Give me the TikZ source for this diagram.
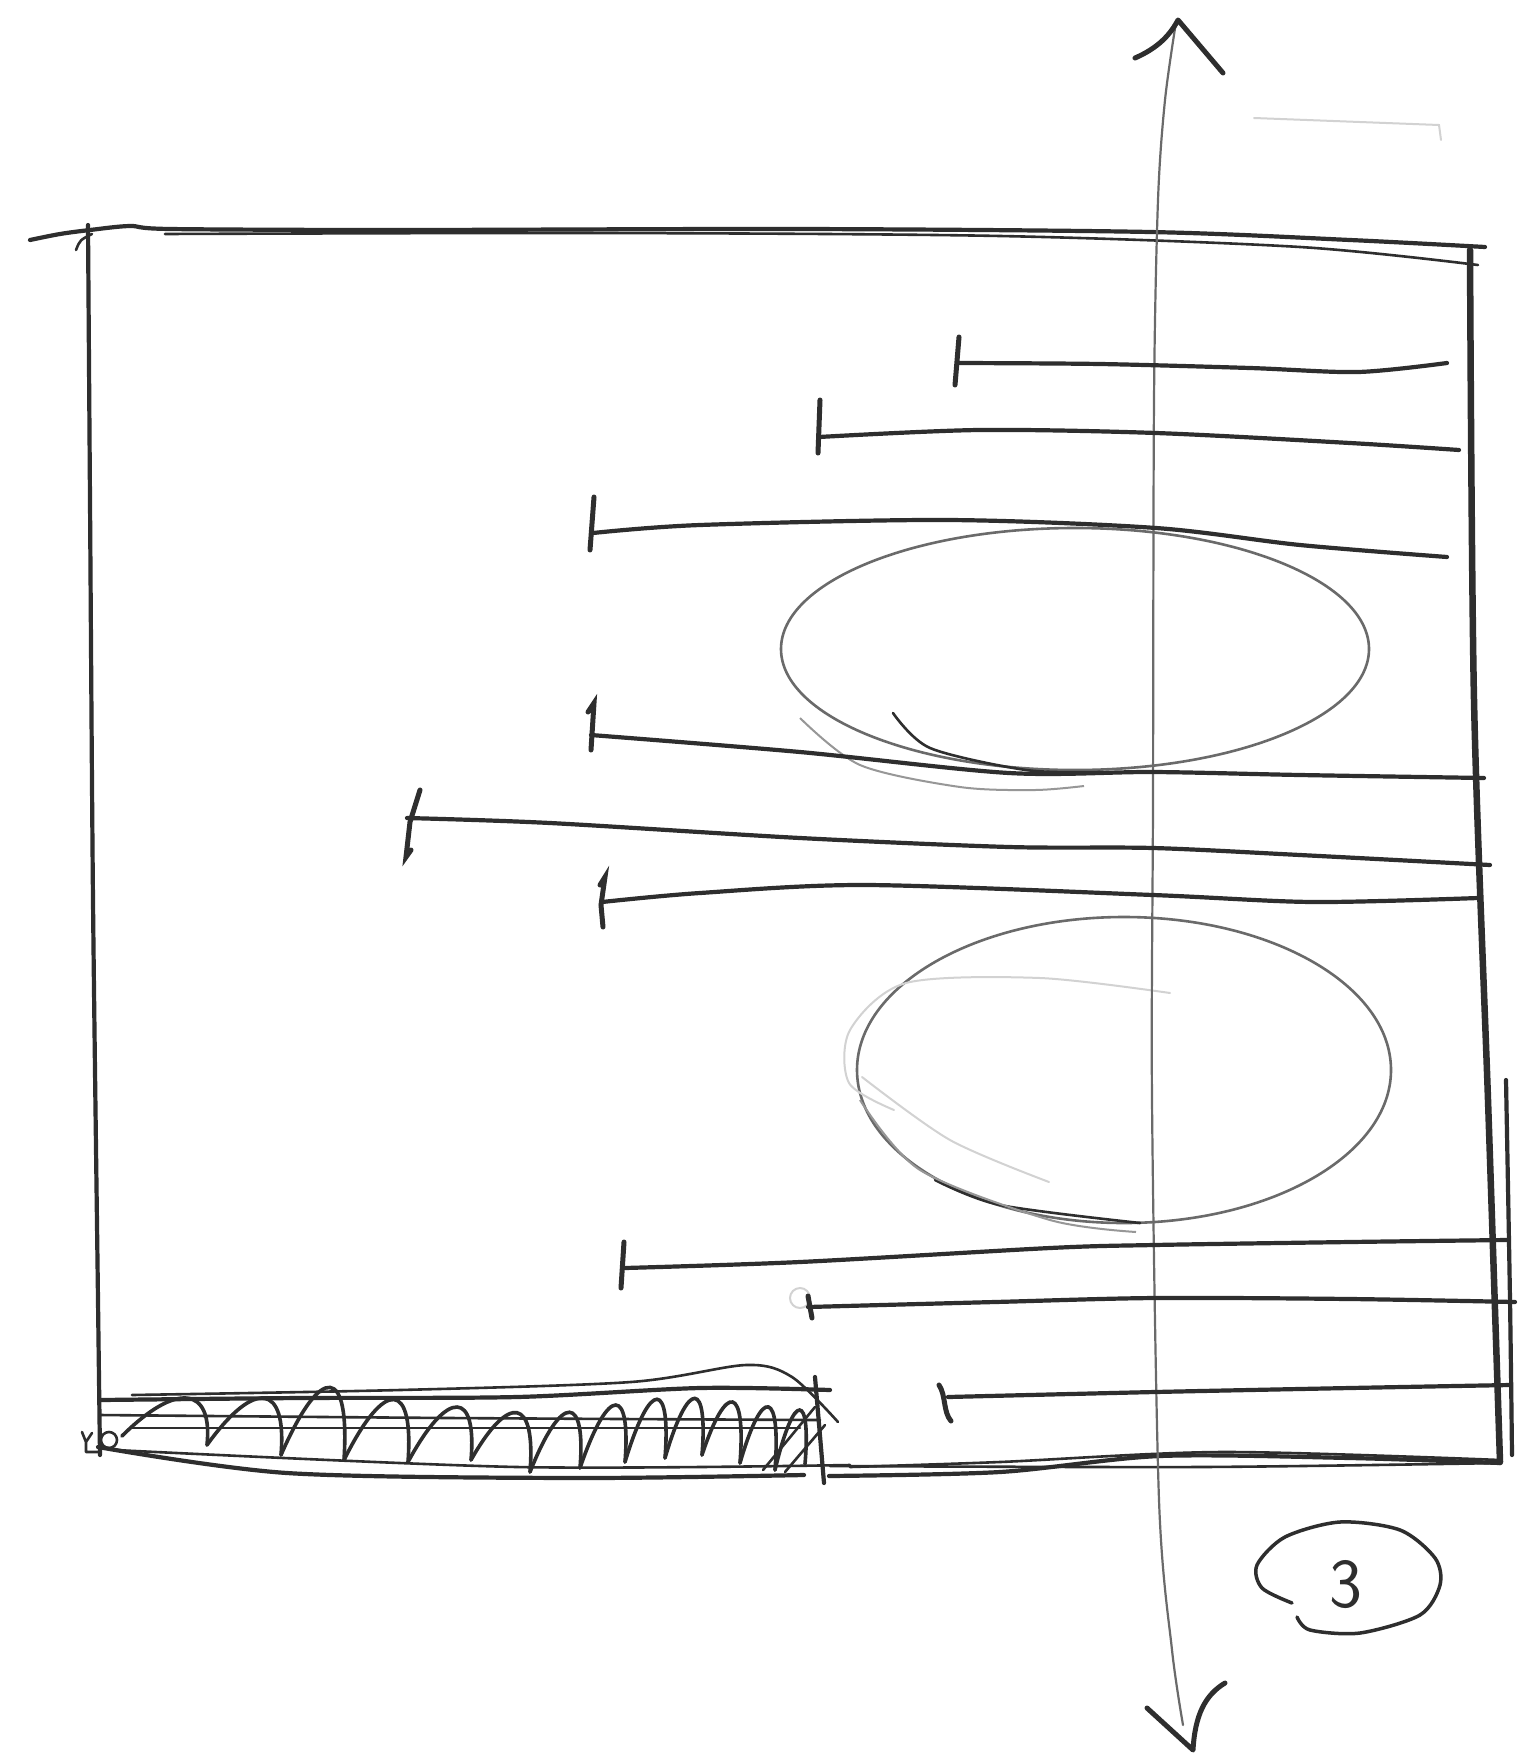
\documentclass[tikz,border=0pt]{standalone}
\usetikzlibrary{calc}
\definecolor{ink}{HTML}{2E2E2E}
\definecolor{pencil}{HTML}{6A6A6A}
\definecolor{faint}{HTML}{D2D2D2}
\tikzset{
  pen/.style={draw=ink, line width=4.2pt, line cap=round, line join=round},
  thinpen/.style={draw=ink, line width=2.6pt, line cap=round, line join=round},
  wall/.style={draw=ink, line width=6.5pt, line cap=round},
  oval/.style={draw=pencil, line width=2.6pt},
  ghost/.style={draw=faint, line width=2pt, line cap=round},
  shaft/.style={draw=pencil, line width=2.2pt, line cap=round},
  barb/.style={draw=ink, line width=5pt, line cap=round, line join=round},
  tickmark/.style={draw=ink, line width=5pt, line cap=round},
  hatchpen/.style={draw=ink, line width=3.6pt, line cap=round}
}
\begin{document}
\begin{tikzpicture}[x=1pt,y=-1pt]
\useasboundingbox (0,0) rectangle (1530,1756);
\fill[white] (0,0) rectangle (1530,1756);

% ---------- frame ----------
\draw[pen] plot[smooth] coordinates {(30,240) (60,234) (90,230) (130,226) (170,229) (400,230) (800,229) (1150,232) (1350,240) (1485,247)};
\draw[thinpen] plot[smooth] coordinates {(165,234) (600,233) (1000,236) (1300,247) (1478,265)};
\draw[pen] plot[smooth] coordinates {(88,225) (90,500) (93,900) (98,1300) (100,1455)};
\draw[thinpen] (76,250) .. controls (80,240) .. (92,234);
\draw[wall] plot[smooth] coordinates {(1470,250) (1474,700) (1488,1100) (1500,1462)};
\draw[pen] plot[smooth] coordinates {(1506,1080) (1510,1300) (1512,1455)};
% bottom edge
\draw[pen] plot[smooth] coordinates {(829,1476) (1000,1472) (1160,1456) (1350,1458) (1500,1463)};
\draw[thinpen] plot[smooth] coordinates {(850,1467) (1000,1462) (1223,1452) (1500,1460)};
\draw[thinpen] plot[smooth] coordinates {(830,1466) (1200,1467) (1500,1463)};

% ---------- hatched bar ----------
\draw[pen] plot[smooth] coordinates {(100,1400) (300,1398) (517,1397) (700,1388) (830,1390)};
\draw[thinpen] plot[smooth] coordinates {(132,1395) (400,1390) (631,1382) (746,1365) (792,1377) (838,1422)};
\draw[thinpen] plot[smooth] coordinates {(100,1415) (450,1418) (820,1420)};
\draw[thinpen] plot[smooth] coordinates {(130,1428) (450,1428) (800,1428)};
\draw[pen] plot[smooth] coordinates {(98,1447) (287,1473) (574,1478) (804,1475)};
\draw[thinpen] plot[smooth] coordinates {(115,1450) (517,1467) (850,1465)};
\draw[pen] (815,1377) -- (824,1483);
\draw[thinpen] (763,1470) -- (815,1407);
\draw[thinpen] (785,1472) -- (825,1425);
\draw[thinpen] (109,1440) circle (8);
\draw[thinpen] (82,1432) -- (86,1442) -- (92,1433) (86,1442) -- (86,1452) -- (100,1452);
\foreach \xa/\ya/\xb/\yb/\t in {
  122/1436/207/1445/1405, 207/1445/281/1455/1402, 281/1455/344/1460/1385,
  344/1460/408/1462/1400, 408/1462/471/1460/1410, 471/1460/530/1472/1416,
  530/1472/580/1468/1414, 580/1468/625/1462/1406, 625/1462/665/1458/1400,
  665/1458/702/1455/1400, 702/1455/740/1463/1404, 740/1463/775/1470/1408,
  775/1470/805/1464/1412}
  \draw[hatchpen] (\xa,\ya) .. controls ({\xa+0.65*(\xb-\xa)},{\t-24}) and ({\xb+6},{\t-18}) .. (\xb,\yb);

% ---------- ovals ----------
\draw[oval] (1075,649) ellipse [x radius=294, y radius=121];
\draw[thinpen] plot[smooth] coordinates {(893,713) (930,748) (1026,770) (1100,772)};
\draw[draw=pencil!70, line width=2pt] plot[smooth] coordinates {(800,718) (860,765) (960,787) (1035,790) (1084,786)};

\draw[oval] (1124,1070) ellipse [x radius=267, y radius=153];
\draw[thinpen] plot[smooth] coordinates {(935,1180) (1000,1205) (1140,1223)};
\draw[draw=pencil!70, line width=2pt] plot[smooth] coordinates {(860,1100) (920,1170) (1050,1220) (1136,1232)};
\draw[ghost] plot[smooth] coordinates {(862,1077) (950,1140) (1049,1182)};
\draw[ghost] plot[smooth] coordinates {(1170,993) (1040,978) (906,983) (850,1030) (849,1083) (894,1110)};

% ---------- vertical double arrow ----------
\draw[shaft] plot[smooth] coordinates {(1176,22) (1165,100) (1158,200) (1154,400) (1153,800) (1152,1100) (1159,1500) (1172,1650) (1183,1725)};
\draw[barb] (1135,58) .. controls (1158,48) and (1170,35) .. (1178,20) -- (1223,73);
\draw[barb] (1147,1708) -- (1193,1750) .. controls (1195,1715) and (1205,1695) .. (1225,1683);
\draw[ghost] (1254,118) -- (1439,125) -- (1441,140);

% ---------- horizontal lines with ticks ----------
\draw[tickmark] (959,337) -- (955,385);
\draw[pen] plot[smooth] coordinates {(957,363) (1100,364) (1250,368) (1358,372) (1447,363)};
\draw[tickmark] (820,400) -- (818,453);
\draw[pen] plot[smooth] coordinates {(819,437) (979,430) (1156,433) (1350,443) (1459,450)};
\draw[tickmark] (594,497) -- (590,550);
\draw[pen] plot[smooth] coordinates {(593,533) (700,525) (948,520) (1156,528) (1300,545) (1447,557)};
\draw[tickmark] (588,712) -- (594,703) -- (591,750);
\draw[pen] plot[smooth] coordinates {(591,735) (800,752) (1009,773) (1153,772) (1300,775) (1484,778)};
\draw[tickmark] (420,790) -- (410,822) -- (406,857) -- (411,850);
\draw[pen] plot[smooth] coordinates {(407,818) (550,823) (800,838) (1009,847) (1153,848) (1300,855) (1490,865)};
\draw[tickmark] (600,885) -- (605,877) -- (601,905) -- (603,927);
\draw[pen] plot[smooth] coordinates {(602,902) (700,893) (866,885) (1153,895) (1313,902) (1478,898)};
\draw[tickmark] (624,1242) -- (621,1288);
\draw[pen] plot[smooth] coordinates {(625,1268) (800,1262) (1050,1248) (1154,1245) (1350,1242) (1507,1240)};
\draw[ghost] (800,1298) circle (10);
\draw[tickmark] (808,1296) -- (812,1318);
\draw[pen] plot[smooth] coordinates {(808,1307) (995,1302) (1155,1298) (1350,1299) (1515,1302)};
\draw[tickmark] (939,1385) .. controls (946,1395) and (943,1412) .. (951,1421);
\draw[pen] plot[smooth] coordinates {(948,1397) (1155,1392) (1350,1388) (1510,1385)};

% ---------- circled number ----------
\node[text=ink, font=\sffamily\fontsize{70}{70}\selectfont, inner sep=0pt] (num) at (1346,1585) {3};
\draw[barb, line width=3.5pt] plot[smooth] coordinates {(1292,1603) (1262,1588) (1257,1565) (1285,1537) (1340,1522) (1400,1530) (1435,1558) (1440,1585) (1420,1615) (1360,1633) (1310,1630) (1297,1617)};
\end{tikzpicture}
\end{document}
